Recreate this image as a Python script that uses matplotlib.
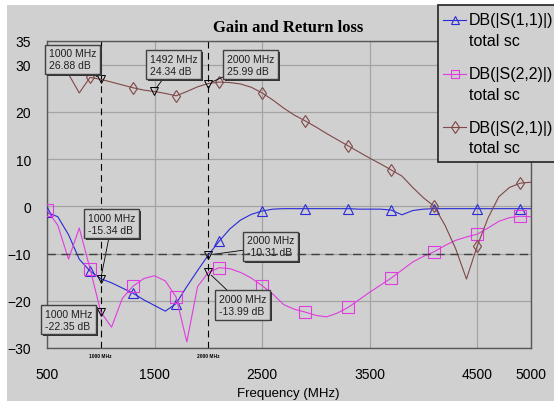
import matplotlib
matplotlib.use('Agg')
from matplotlib import pyplot as plt
from matplotlib.lines import Line2D
from matplotlib.patches import Rectangle
from matplotlib import patheffects as pe

# frequency grid, 100 MHz steps
freq = list(range(500, 5001, 100))

s11 = [-1.3, -2.2, -6.0, -11.2, -13.7, -15.34, -16.2, -17.3, -18.4, -19.8,
       -21.0, -22.2, -20.6, -17.0, -13.6, -10.31, -7.4, -4.8, -2.9, -1.7,
       -1.0, -0.6, -0.5, -0.5, -0.5, -0.5, -0.5, -0.5, -0.5, -0.6,
       -0.6, -0.6, -0.8, -1.8, -0.9, -0.6, -0.5, -0.5, -0.5, -0.5,
       -0.5, -0.5, -0.5, -0.5, -0.5, -0.5]
s22 = [-0.8, -4.0, -11.2, -4.6, -13.2, -22.35, -25.6, -19.5, -16.9, -15.3,
       -14.7, -15.8, -19.2, -28.7, -17.0, -13.99, -13.0, -13.2, -14.0, -15.2,
       -16.8, -18.6, -20.8, -21.8, -22.4, -23.1, -23.4, -22.6, -21.4, -19.8,
       -18.2, -16.7, -15.2, -13.5, -11.8, -10.6, -9.6, -8.3, -7.2, -6.5,
       -5.9, -4.6, -3.2, -2.4, -2.1, -2.2]
s21 = [31.0, 30.0, 28.0, 24.0, 27.3, 26.88, 26.3, 25.7, 25.1, 24.6,
       24.3, 23.9, 23.4, 24.3, 25.3, 25.99, 26.3, 26.2, 25.9, 25.2,
       24.0, 22.5, 20.8, 19.3, 18.1, 16.8, 15.4, 14.1, 12.8, 11.5,
       10.2, 9.0, 7.7, 6.4, 4.0, 1.8, 0.0, -4.0, -9.0, -15.4,
       -8.4, -2.5, 2.0, 4.0, 4.9, 5.1]

series_names = ['DB(|S(1,1)|)', 'DB(|S(2,2)|)', 'DB(|S(2,1)|)']

# marker readouts: (freq, value, box text x, box text y)
markers = [
    (1000, 26.88, 519, 31.1),
    (1492, 24.34, 1458, 30.0),
    (2000, 25.99, 2174, 30.0),
    (1000, -15.34, 881, -3.7),
    (2000, -10.31, 2358, -8.5),
    (1000, -22.35, 481, -24.0),
    (2000, -13.99, 2099, -20.9),
]

W, H = 554, 402
BG = '#d0d0d0'
BLUE = '#2a2ad8'
MAGENTA = '#e03ce0'
BROWN = '#804848'


def fx(px):
    return px / W


def fy(py):
    return 1 - py / H


fig = plt.figure(figsize=(W / 100, H / 100), dpi=100, facecolor='white')
fig.add_artist(Rectangle((fx(7), 0), 1, fy(6), transform=fig.transFigure,
                         facecolor=BG, edgecolor='none', zorder=-10))

ax = fig.add_axes([fx(47), fy(349), 484 / W, 307 / H])
ax.set_facecolor(BG)
ax.set_xlim(500, 5000)
ax.set_ylim(-30, 35)
ax.set_xticks([500, 1500, 2500, 3500, 4500, 5000])
ax.set_yticks([-30, -20, -10, 0, 10, 20, 30, 35])
ax.tick_params(length=0, labelsize=10)
ax.tick_params(axis='y', pad=11.5)
ax.tick_params(axis='x', pad=13.5)
for lab in ax.get_xticklabels() + ax.get_yticklabels():
    lab.set_fontfamily('Liberation Sans')
ax.grid(True, color='#a4a4a4', lw=0.9)
ax.set_axisbelow(True)
for sp in ax.spines.values():
    sp.set_color('#585858')
    sp.set_linewidth(1.0)

ax.plot(freq, s11, color=BLUE, lw=0.8, marker='^', ms=7, mfc='none',
        mec=BLUE, mew=0.8, markevery=4, zorder=3)
ax.plot(freq, s22, color=MAGENTA, lw=0.8, marker='s', ms=8, mfc='none',
        mec=MAGENTA, mew=0.8, markevery=4, zorder=3)
ax.plot(freq, s21, color=BROWN, lw=0.8, marker='d', ms=6, mfc='none',
        mec=BROWN, mew=0.8, markevery=4, zorder=3)

ax.axvline(1000, color='black', lw=0.8, ls=(0, (6, 4)), zorder=2)
ax.axvline(2000, color='black', lw=0.8, ls=(0, (6, 4)), zorder=2)
ax.axhline(-10, color='#404040', lw=1.0, ls=(0, (6, 4)), zorder=6)

shadow = [pe.SimplePatchShadow(offset=(1.2, -1.2), shadow_rgbFace='#303030',
                               alpha=1.0), pe.Normal()]
for f, v, tx, ty in markers:
    ax.plot([f], [v], marker='v', ms=6, mfc='none', mec='black', mew=0.7,
            zorder=4)
    ann = ax.annotate('%d MHz\n%.2f dB' % (f, v), xy=(f, v), xytext=(tx, ty),
                      ha='left', va='center', fontsize=7.5, linespacing=1.25,
                      family='Liberation Sans', color='#202020',
                      bbox=dict(boxstyle='square,pad=0.35', fc=BG,
                                ec='#404040', lw=1.0),
                      arrowprops=dict(arrowstyle='-', color='black', lw=0.6,
                                      shrinkA=0, shrinkB=3),
                      annotation_clip=False, zorder=5)
    ann.get_bbox_patch().set_path_effects(shadow)

for f in [1000, 2000]:
    ax.text(f, -0.016, '%d MHz' % f, transform=ax.get_xaxis_transform(),
            ha='center', va='top', fontsize=3.5, fontweight='bold',
            family='Liberation Sans')

ax.set_xlabel('Frequency (MHz)', fontsize=9.5, family='Liberation Sans')
ax.xaxis.set_label_coords(0.498, -0.127)

fig.text(fx(288), fy(28), 'Gain and Return loss', ha='center', va='center',
         fontsize=12, fontweight='bold', family='Liberation Serif')

# legend box drawn by hand to match the original layout
fig.add_artist(Rectangle((fx(438), fy(163)), fx(130), (163 - 6) / H,
                         transform=fig.transFigure, facecolor=BG,
                         edgecolor='#303030', lw=1.3, zorder=8))
colors = [BLUE, MAGENTA, BROWN]
mks = ['^', 's', 'd']
for i, name in enumerate(series_names):
    y = 21 + 53.5 * i
    fig.add_artist(Line2D([fx(443), fx(455), fx(466)], [fy(y)] * 3,
                          transform=fig.transFigure, color=colors[i], lw=0.8,
                          marker=mks[i], ms=6, mfc='none', mec=colors[i],
                          mew=0.8, markevery=[1], zorder=9))
    fig.text(fx(469), fy(y), name, ha='left', va='center', fontsize=11.5,
             family='Liberation Sans', zorder=9)
    fig.text(fx(469), fy(y + 21), 'total sc', ha='left', va='center',
             fontsize=11.5, family='Liberation Sans', zorder=9)

fig.savefig('out.png', dpi=100, facecolor='white')
